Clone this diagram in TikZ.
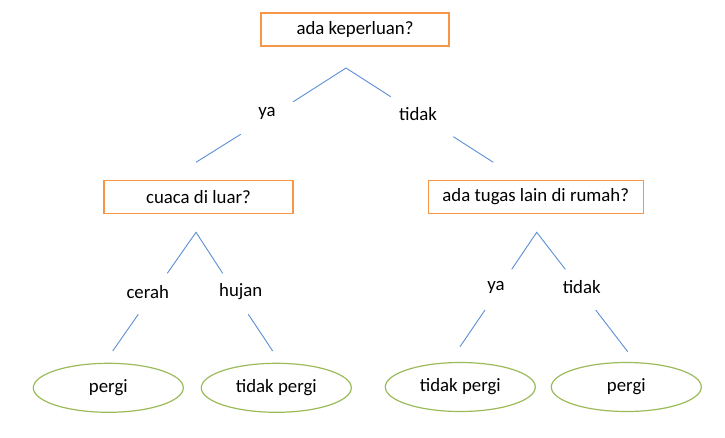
\documentclass[tikz,border=0pt]{standalone}
\usepackage{fontspec}
\setmainfont{Carlito}
\usetikzlibrary{shapes.geometric}
\definecolor{boxorange}{HTML}{F79646}
\definecolor{leafgreen}{HTML}{9BBB59}
\definecolor{linkblue}{HTML}{5B8ED6}
\tikzset{
  qbox/.style={draw=boxorange, line width=1.3pt, rectangle, minimum height=33pt, inner sep=0pt},
  leaf/.style={draw=leafgreen, line width=1.2pt, ellipse, minimum width=150pt, minimum height=49pt, inner sep=0pt},
  lbl/.style={inner sep=0pt},
  link/.style={draw=linkblue, line width=0.9pt},
  every node/.style={font=\fontsize{18.8}{22}\selectfont}
}
\begin{document}
\begin{tikzpicture}[x=1pt,y=-1pt]
\useasboundingbox (0,0) rectangle (725,437);
% question boxes
\node[qbox, minimum width=188pt] (q1) at (355,29.5) {ada keperluan?};
\node[qbox, minimum width=189pt] (q2) at (198.5,197) {cuaca di luar?};
\node[qbox, minimum width=215pt] (q3) at (535.8,196.7) {ada tugas lain di rumah?};
% labels
\node[lbl] (ya1) at (267,113) {ya};
\node[lbl] (td1) at (418,114) {tidak};
\node[lbl] (cr) at (147.7,291.7) {cerah};
\node[lbl] (hj) at (240.7,291.7) {hujan};
\node[lbl] (ya2) at (496,287.3) {ya};
\node[lbl] (td2) at (581.7,287.3) {tidak};
% leaves
\node[leaf] (l1) at (108.3,387.8) {pergi};
\node[leaf] (l2) at (276.3,387.8) {tidak pergi};
\node[leaf] (l3) at (460.3,387) {tidak pergi};
\node[leaf] (l4) at (626.3,387) {pergi};
% connector end points
\coordinate (a1) at (346,68);
\coordinate (a1l) at (293.3,101.7);
\coordinate (a1r) at (390.7,96.7);
\coordinate (b1) at (240.7,134.3);
\coordinate (b1e) at (196,162.3);
\coordinate (b2) at (453.3,136.7);
\coordinate (b2e) at (493.3,162.3);
\coordinate (a2) at (196,232.3);
\coordinate (a2l) at (167.3,273.3);
\coordinate (a2r) at (222.7,273.3);
\coordinate (c1) at (138.3,314.3);
\coordinate (c1e) at (112.7,351);
\coordinate (c2) at (248.3,314.3);
\coordinate (c2e) at (272.7,351);
\coordinate (a3) at (536.7,232.3);
\coordinate (a3l) at (511.7,269.3);
\coordinate (a3r) at (565.3,269.3);
\coordinate (d1) at (485,310);
\coordinate (d1e) at (460,346.7);
\coordinate (d2) at (595.7,310);
\coordinate (d2e) at (627.7,351.7);
% connectors
\draw[link] (a1l) -- (a1) -- (a1r);
\draw[link] (b1) -- (b1e);
\draw[link] (b2) -- (b2e);
\draw[link] (a2l) -- (a2) -- (a2r);
\draw[link] (c1) -- (c1e);
\draw[link] (c2) -- (c2e);
\draw[link] (a3l) -- (a3) -- (a3r);
\draw[link] (d1) -- (d1e);
\draw[link] (d2) -- (d2e);
\end{tikzpicture}
\end{document}
